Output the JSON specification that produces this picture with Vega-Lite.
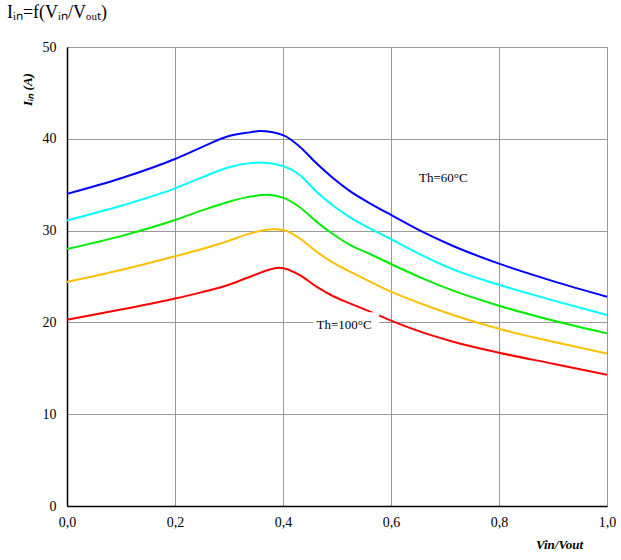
{
  "$schema": "https://vega.github.io/schema/vega-lite/v6.json",
  "autosize": "none",
  "width": 540,
  "height": 459,
  "padding": {"left": 67, "top": 47, "right": 14, "bottom": 54},
  "background": "white",
  "title": {
    "text": "Iᵢₙ=f(Vᵢₙ/Vₒᵤₜ)",
    "anchor": "start",
    "frame": "group",
    "dx": -60,
    "offset": 18,
    "font": "Liberation Serif",
    "fontSize": 18,
    "fontWeight": "normal",
    "color": "black"
  },
  "config": {
    "font": "Liberation Serif",
    "view": {"stroke": "#999999", "strokeWidth": 1},
    "axis": {
      "labelFont": "Liberation Serif",
      "labelFontSize": 14,
      "labelColor": "black",
      "titleFont": "Liberation Serif",
      "titleColor": "black",
      "gridColor": "#999999",
      "gridWidth": 1,
      "gridOpacity": 1,
      "domainColor": "black",
      "domainWidth": 1.5,
      "ticks": false
    }
  },
  "datasets": {
    "curves": [
      {"x": 0.0, "y": 34.0, "s": "60°C"},
      {"x": 0.1, "y": 35.7, "s": "60°C"},
      {"x": 0.2, "y": 37.8, "s": "60°C"},
      {"x": 0.25, "y": 39.1, "s": "60°C"},
      {"x": 0.3, "y": 40.3, "s": "60°C"},
      {"x": 0.339, "y": 40.7, "s": "60°C"},
      {"x": 0.357, "y": 40.85, "s": "60°C"},
      {"x": 0.4, "y": 40.4, "s": "60°C"},
      {"x": 0.431, "y": 39.14, "s": "60°C"},
      {"x": 0.462, "y": 37.33, "s": "60°C"},
      {"x": 0.493, "y": 35.7, "s": "60°C"},
      {"x": 0.524, "y": 34.3, "s": "60°C"},
      {"x": 0.561, "y": 32.97, "s": "60°C"},
      {"x": 0.6, "y": 31.7, "s": "60°C"},
      {"x": 0.654, "y": 29.99, "s": "60°C"},
      {"x": 0.715, "y": 28.32, "s": "60°C"},
      {"x": 0.8, "y": 26.4, "s": "60°C"},
      {"x": 0.9, "y": 24.5, "s": "60°C"},
      {"x": 1.0, "y": 22.8, "s": "60°C"},

      {"x": 0.0, "y": 31.1, "s": "70°C"},
      {"x": 0.1, "y": 32.7, "s": "70°C"},
      {"x": 0.2, "y": 34.6, "s": "70°C"},
      {"x": 0.25, "y": 35.8, "s": "70°C"},
      {"x": 0.3, "y": 36.9, "s": "70°C"},
      {"x": 0.339, "y": 37.35, "s": "70°C"},
      {"x": 0.36, "y": 37.42, "s": "70°C"},
      {"x": 0.4, "y": 37.03, "s": "70°C"},
      {"x": 0.431, "y": 36.06, "s": "70°C"},
      {"x": 0.462, "y": 34.24, "s": "70°C"},
      {"x": 0.493, "y": 32.7, "s": "70°C"},
      {"x": 0.524, "y": 31.44, "s": "70°C"},
      {"x": 0.561, "y": 30.25, "s": "70°C"},
      {"x": 0.6, "y": 29.08, "s": "70°C"},
      {"x": 0.654, "y": 27.41, "s": "70°C"},
      {"x": 0.715, "y": 25.78, "s": "70°C"},
      {"x": 0.8, "y": 24.1, "s": "70°C"},
      {"x": 0.9, "y": 22.4, "s": "70°C"},
      {"x": 1.0, "y": 20.8, "s": "70°C"},

      {"x": 0.0, "y": 28.0, "s": "80°C"},
      {"x": 0.1, "y": 29.4, "s": "80°C"},
      {"x": 0.2, "y": 31.15, "s": "80°C"},
      {"x": 0.25, "y": 32.2, "s": "80°C"},
      {"x": 0.3, "y": 33.15, "s": "80°C"},
      {"x": 0.339, "y": 33.7, "s": "80°C"},
      {"x": 0.37, "y": 33.91, "s": "80°C"},
      {"x": 0.4, "y": 33.59, "s": "80°C"},
      {"x": 0.431, "y": 32.54, "s": "80°C"},
      {"x": 0.462, "y": 30.98, "s": "80°C"},
      {"x": 0.493, "y": 29.6, "s": "80°C"},
      {"x": 0.524, "y": 28.44, "s": "80°C"},
      {"x": 0.561, "y": 27.45, "s": "80°C"},
      {"x": 0.6, "y": 26.36, "s": "80°C"},
      {"x": 0.654, "y": 24.91, "s": "80°C"},
      {"x": 0.715, "y": 23.46, "s": "80°C"},
      {"x": 0.8, "y": 21.82, "s": "80°C"},
      {"x": 0.9, "y": 20.2, "s": "80°C"},
      {"x": 1.0, "y": 18.8, "s": "80°C"},

      {"x": 0.0, "y": 24.4, "s": "90°C"},
      {"x": 0.1, "y": 25.7, "s": "90°C"},
      {"x": 0.2, "y": 27.2, "s": "90°C"},
      {"x": 0.25, "y": 28.0, "s": "90°C"},
      {"x": 0.3, "y": 28.9, "s": "90°C"},
      {"x": 0.339, "y": 29.7, "s": "90°C"},
      {"x": 0.382, "y": 30.14, "s": "90°C"},
      {"x": 0.4, "y": 30.07, "s": "90°C"},
      {"x": 0.431, "y": 29.16, "s": "90°C"},
      {"x": 0.462, "y": 27.71, "s": "90°C"},
      {"x": 0.493, "y": 26.5, "s": "90°C"},
      {"x": 0.524, "y": 25.52, "s": "90°C"},
      {"x": 0.561, "y": 24.44, "s": "90°C"},
      {"x": 0.6, "y": 23.35, "s": "90°C"},
      {"x": 0.654, "y": 22.08, "s": "90°C"},
      {"x": 0.715, "y": 20.81, "s": "90°C"},
      {"x": 0.8, "y": 19.3, "s": "90°C"},
      {"x": 0.9, "y": 17.9, "s": "90°C"},
      {"x": 1.0, "y": 16.6, "s": "90°C"},

      {"x": 0.0, "y": 20.3, "s": "100°C"},
      {"x": 0.1, "y": 21.4, "s": "100°C"},
      {"x": 0.2, "y": 22.6, "s": "100°C"},
      {"x": 0.25, "y": 23.3, "s": "100°C"},
      {"x": 0.3, "y": 24.1, "s": "100°C"},
      {"x": 0.339, "y": 24.98, "s": "100°C"},
      {"x": 0.394, "y": 25.96, "s": "100°C"},
      {"x": 0.431, "y": 25.16, "s": "100°C"},
      {"x": 0.462, "y": 23.89, "s": "100°C"},
      {"x": 0.493, "y": 22.85, "s": "100°C"},
      {"x": 0.524, "y": 22.07, "s": "100°C"},
      {"x": 0.561, "y": 21.18, "s": "100°C"},
      {"x": 0.6, "y": 20.19, "s": "100°C"},
      {"x": 0.654, "y": 18.99, "s": "100°C"},
      {"x": 0.715, "y": 17.9, "s": "100°C"},
      {"x": 0.8, "y": 16.7, "s": "100°C"},
      {"x": 0.9, "y": 15.5, "s": "100°C"},
      {"x": 1.0, "y": 14.3, "s": "100°C"}
    ],
    "labels": [
      {"x": 0.697, "y": 35.7, "label": "Th=60°C"},
      {"x": 0.513, "y": 19.7, "label": "Th=100°C"}
    ],
    "mask": [
      {"x": 0.456, "x2": 0.578, "y": 18.4, "y2": 21.1}
    ]
  },
  "layer": [
    {
      "data": {"name": "curves"},
      "mark": {"type": "line", "interpolate": "monotone", "strokeWidth": 2},
      "encoding": {
        "x": {
          "field": "x", "type": "quantitative",
          "scale": {"domain": [0, 1], "nice": false},
          "axis": {
            "values": [0, 0.2, 0.4, 0.6, 0.8, 1.0],
            "labelExpr": "replace(format(datum.value, '.1f'), '.', ',')",
            "labelFlush": false,
            "labelPadding": 9,
            "labelFont": "Liberation Serif",
            "labelFontSize": 14,
            "title": "Vin/Vout",
            "titleFont": "Liberation Serif",
            "titleFontSize": 13,
            "titleFontStyle": "italic",
            "titleFontWeight": "bold",
            "titleX": 492,
            "titleY": 38,
            "titleAlign": "center",
            "titleBaseline": "middle"
          }
        },
        "y": {
          "field": "y", "type": "quantitative",
          "scale": {"domain": [0, 50], "nice": false},
          "axis": {
            "values": [0, 10, 20, 30, 40, 50],
            "labelPadding": 11,
            "labelFont": "Liberation Serif",
            "labelFontSize": 14,
            "title": "Iᵢₙ (A)",
            "titleFont": "Liberation Serif",
            "titleFontSize": 13,
            "titleFontStyle": "italic",
            "titleFontWeight": "bold",
            "titleAngle": -90,
            "titleX": -40,
            "titleY": 42,
            "titleAlign": "center",
            "titleBaseline": "middle"
          }
        },
        "color": {
          "field": "s", "type": "nominal",
          "scale": {
            "domain": ["60°C", "70°C", "80°C", "90°C", "100°C"],
            "range": ["#0000ff", "#00ffff", "#00ee00", "#ffc000", "#ff0000"]
          },
          "legend": null
        }
      }
    },
    {
      "data": {"name": "mask"},
      "mark": {"type": "rect", "fill": "white", "stroke": null},
      "encoding": {
        "x": {"field": "x", "type": "quantitative"},
        "x2": {"field": "x2"},
        "y": {"field": "y", "type": "quantitative"},
        "y2": {"field": "y2"}
      }
    },
    {
      "data": {"name": "labels"},
      "mark": {"type": "text", "font": "Liberation Serif", "fontSize": 13, "color": "black", "align": "center", "baseline": "middle"},
      "encoding": {
        "x": {"field": "x", "type": "quantitative"},
        "y": {"field": "y", "type": "quantitative"},
        "text": {"field": "label"}
      }
    }
  ]
}
